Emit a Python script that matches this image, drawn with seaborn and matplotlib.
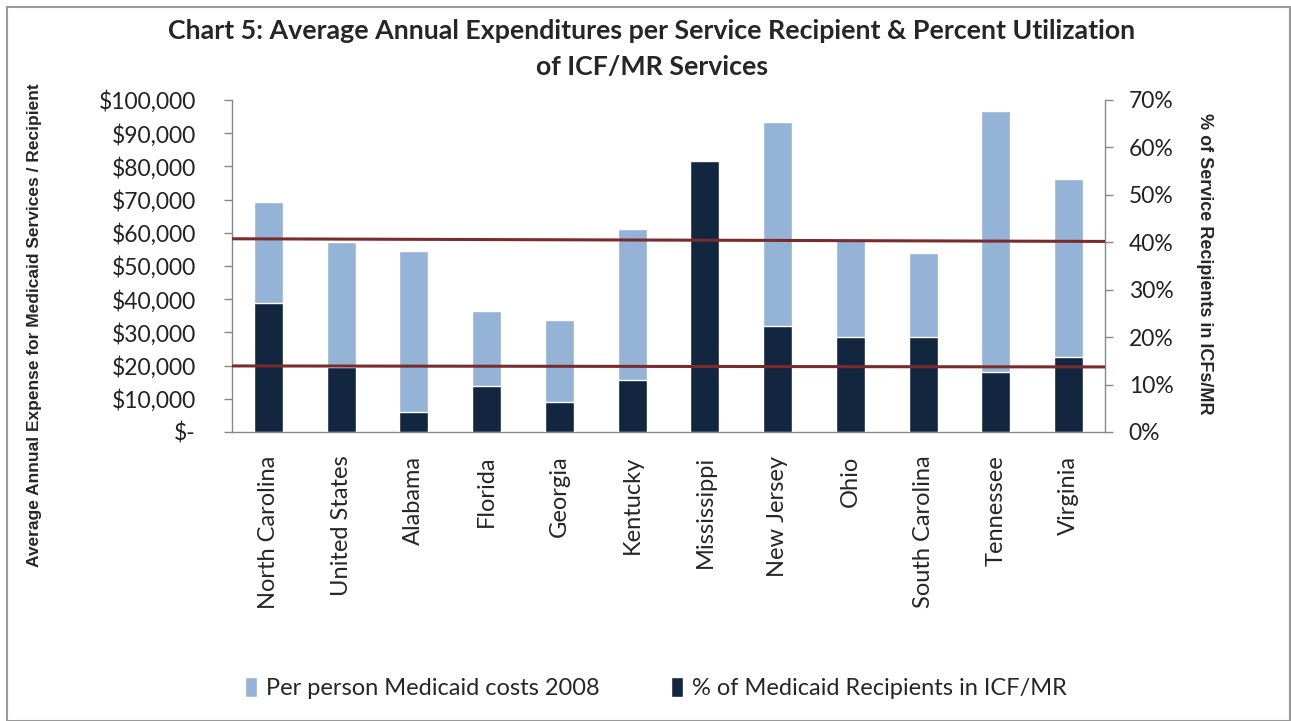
import numpy as np
import pandas as pd
import matplotlib
matplotlib.use("Agg")
import matplotlib.pyplot as plt
from matplotlib.patches import Rectangle
from matplotlib.ticker import FuncFormatter
import seaborn as sns

# ---data---
states = ["North Carolina", "United States", "Alabama", "Florida", "Georgia", "Kentucky",
          "Mississippi", "New Jersey", "Ohio", "South Carolina", "Tennessee", "Virginia"]
cost_2008 = [69200, 57300, 54600, 36400, 33800, 61100, 75000, 93500, 57700, 53800, 96600, 76100]
pct_icf = [27.1, 13.8, 4.2, 9.6, 6.4, 11.0, 57.1, 22.3, 20.1, 20.1, 12.6, 15.8]

# reference lines drawn across the chart (dollars at left end, right end)
ref_upper = [58200, 57400]
ref_lower = [19900, 19600]

cost_label = "Per person Medicaid costs 2008"
pct_label = "% of Medicaid Recipients in ICF/MR"

light_blue = "#95B3D7"
navy = "#132640"
dark_red = "#7A2C2C"

df = pd.DataFrame({"state": states, "cost": cost_2008, "pct": pct_icf})

sns.set_style("white")
plt.rcParams["font.family"] = ["Lato", "DejaVu Sans"]

fig = plt.figure(figsize=(12.91, 7.21), dpi=100)
ax = fig.add_axes([232 / 1291, 1 - 432 / 721, (1105 - 232) / 1291, (432 - 100) / 721])
ax2 = ax.twinx()

sns.barplot(data=df, x="state", y="cost", color=light_blue, saturation=1, width=0.4,
            ax=ax, label=cost_label, errorbar=None)
sns.barplot(data=df, x="state", y="pct", color=navy, saturation=1, width=0.4,
            ax=ax2, label=pct_label, errorbar=None)
for a in (ax, ax2):
    if a.get_legend() is not None:
        a.get_legend().remove()

ax.set_ylim(0, 100000)
ax2.set_ylim(0, 70)
ax.set_xlim(-0.5, len(states) - 0.5)
ax2.set_xlim(-0.5, len(states) - 0.5)

# red reference lines (percent scale on ax2: 100,000 <-> 70%)
xs = [-0.5, len(states) - 0.5]
for ref in (ref_upper, ref_lower):
    ys = [v / 100000 * 70 for v in ref]
    ax2.plot(xs, ys, color=dark_red, lw=2.2, solid_capstyle="butt", zorder=6)

# ticks and labels
ax.set_yticks(np.arange(0, 100001, 10000))
ax.yaxis.set_major_formatter(FuncFormatter(lambda v, p: "$-" if v == 0 else f"${v:,.0f}"))
ax2.set_yticks(np.arange(0, 71, 10))
ax2.yaxis.set_major_formatter(FuncFormatter(lambda v, p: f"{v:.0f}%"))

ax.set_xticks(np.arange(len(states)))
ax.set_xticklabels(states, rotation=90, fontsize=17)
ax.set_xticks(np.arange(-0.5, len(states), 1), minor=True)
ax.tick_params(axis="x", which="major", length=0, pad=17)
ax.tick_params(axis="x", which="minor", length=7, width=1, color="#888888", direction="out")
ax.tick_params(axis="y", labelsize=16.5, length=6, width=1, color="#888888", direction="out",
               left=True, pad=20)
ax2.tick_params(axis="y", labelsize=16.5, length=6, width=1, color="#888888", direction="out",
                right=True, pad=11)
for t in ax.get_yticklabels() + ax2.get_yticklabels():
    t.set_color("#222222")

ax.set_xlabel("")
ax.set_ylabel("")
ax2.set_ylabel("")

for a in (ax, ax2):
    a.spines["top"].set_visible(False)
    for s in ("left", "right", "bottom"):
        a.spines[s].set_color("#888888")
        a.spines[s].set_linewidth(1)
ax.spines["right"].set_visible(False)
ax2.spines["left"].set_visible(False)
ax2.spines["bottom"].set_visible(False)

# axis titles
fig.text(35 / 1291, 1 - 325 / 721, "Average Annual Expense for Medicaid Services / Recipient",
         rotation=90, ha="center", va="center", fontsize=12.5, fontweight="bold",
         family=["Liberation Sans", "DejaVu Sans"])
fig.text(1205 / 1291, 1 - 264 / 721, "% of Service Recipients in ICFs/MR",
         rotation=-90, ha="center", va="center", fontsize=13, fontweight="bold",
         family=["Liberation Sans", "DejaVu Sans"])

# chart title
fig.text(652 / 1291, 1 - 31 / 721,
         "Chart 5: Average Annual Expenditures per Service Recipient & Percent Utilization",
         ha="center", va="center", fontsize=19.3, fontweight="bold")
fig.text(652 / 1291, 1 - 67 / 721, "of ICF/MR Services",
         ha="center", va="center", fontsize=19.3, fontweight="bold")

# legend
h1, l1 = ax.get_legend_handles_labels()
h2, l2 = ax2.get_legend_handles_labels()
fig.legend(h1 + h2, l1 + l2, loc="center", bbox_to_anchor=(656 / 1291, 1 - 688 / 721),
           ncol=2, frameon=False, fontsize=17, handlelength=0.5, handleheight=0.9,
           handletextpad=0.4, columnspacing=3.0)

# outer border
fig.patches.append(Rectangle((7 / 1291, 0), 1 - 7 / 1291 - 1 / 1291, 1 - 7 / 721,
                             transform=fig.transFigure, fill=False, edgecolor="#999999", lw=1.5))

fig.savefig("out.png", dpi=100)
